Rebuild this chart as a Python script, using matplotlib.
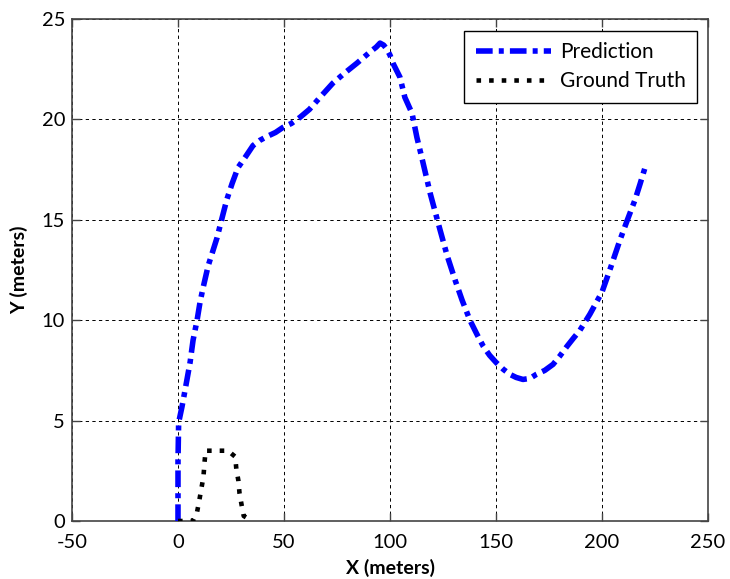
import matplotlib
matplotlib.use("Agg")
import matplotlib.pyplot as plt

plt.rcParams['font.family'] = ['Lato', 'DejaVu Sans']

# Predicted trajectory (meters)
pred_x = [0, 0, 0.3, 1.9, 3.3, 5.7, 7.1, 9, 10.4, 11.8, 14.2, 16, 18.4, 20.8, 23,
          25.5, 28.3, 31.6, 35.4, 38.5, 42, 46, 49.5, 53.5, 57.5, 62, 67, 73, 78.5, 84.4,
          90.5, 93.5, 95.3, 97, 98.5, 100, 101.4, 104.7, 107, 110.4, 112.7, 115, 119,
          123.6, 127, 130.7, 134, 137.7, 141, 144, 147, 150, 153.5, 156.6, 159.5, 162.7,
          166, 169, 173, 176.9, 180, 183.5, 186.5, 189.6, 194.3, 200, 204, 208.5, 212,
          215.6, 218, 220.3]
pred_y = [0, 3.0, 4.9, 5.7, 6.5, 7.9, 9.0, 10, 10.9, 11.6, 12.7, 13.3, 14.1, 15.1, 16,
          16.8, 17.6, 18.1, 18.7, 18.95, 19.15, 19.35, 19.6, 19.8, 20.1, 20.5, 21.1, 21.8,
          22.3, 22.8, 23.35, 23.6, 23.8, 23.7, 23.5, 23.2, 22.8, 22.1, 21.1, 20.3, 19.1,
          18.1, 16.3, 14.5, 13.2, 12, 11, 10, 9.3, 8.7, 8.25, 7.9, 7.55, 7.3, 7.15, 7.05,
          7.1, 7.3, 7.5, 7.8, 8.2, 8.7, 9.1, 9.5, 10.3, 11.4, 12.6, 14, 15.0, 16, 16.8, 17.6]

# Ground-truth trajectory (meters)
gt_x = [0, 7, 9, 10, 11, 12, 12.5, 13, 18, 23.6, 27, 27.5, 28.5, 29, 30, 31, 35]
gt_y = [0, 0, 0.45, 1.0, 1.6, 2.2, 2.9, 3.5, 3.5, 3.5, 3.2, 2.6, 2.0, 1.4, 0.8, 0.25, 0]

x_ticks = [-50, 0, 50, 100, 150, 200, 250]
y_ticks = [0, 5, 10, 15, 20, 25]

fs = 14.5
fs_leg = 15

fig = plt.figure(figsize=(7.30, 5.79), dpi=100)
ax = fig.add_axes([72 / 730, 1 - 521 / 579, (708 - 72) / 730, (521 - 19) / 579])

ax.plot(pred_x, pred_y, color='#0000ff', linewidth=4.0,
        linestyle=(0, (3.0, 1.1, 0.9, 1.1)), dash_capstyle='butt',
        solid_capstyle='butt', solid_joinstyle='round', label='Prediction', zorder=3)
ax.plot(gt_x, gt_y, color='black', linewidth=3.3,
        linestyle=(0, (1.0, 1.75)), dash_capstyle='butt',
        label='Ground Truth', zorder=3)

ax.set_xlim(-50, 250)
ax.set_ylim(0, 25)
ax.set_xticks(x_ticks)
ax.set_yticks(y_ticks)
ax.set_xticklabels([str(v) for v in x_ticks])
ax.set_yticklabels([str(v) for v in y_ticks])

ax.grid(True, color='black', linestyle=(0, (3.4, 3.4)), linewidth=0.7)
ax.set_axisbelow(True)

for side in ['left', 'right', 'top', 'bottom']:
    ax.spines[side].set_color('#444444')
    ax.spines[side].set_linewidth(1.2)

ax.tick_params(axis='both', which='major', direction='in', length=6, width=1,
               color='#444444', labelsize=fs, top=True, right=True)
ax.tick_params(axis='x', pad=9)
ax.tick_params(axis='y', pad=5)

ax.set_xlabel('X (meters)', fontsize=fs - 0.5, fontweight='bold', labelpad=6)
ax.set_ylabel('Y (meters)', fontsize=fs - 0.5, fontweight='bold', labelpad=10)

leg = ax.legend(loc='upper right', bbox_to_anchor=(697 / 730, 1 - 31 / 579),
                bbox_transform=fig.transFigure, borderaxespad=0,
                fontsize=fs_leg, handlelength=3.6, handletextpad=0.42,
                borderpad=0.55, labelspacing=0.42, fancybox=False, framealpha=1)
leg.get_frame().set_edgecolor('black')
leg.get_frame().set_linewidth(1.0)

fig.savefig('out.png', dpi=100)
